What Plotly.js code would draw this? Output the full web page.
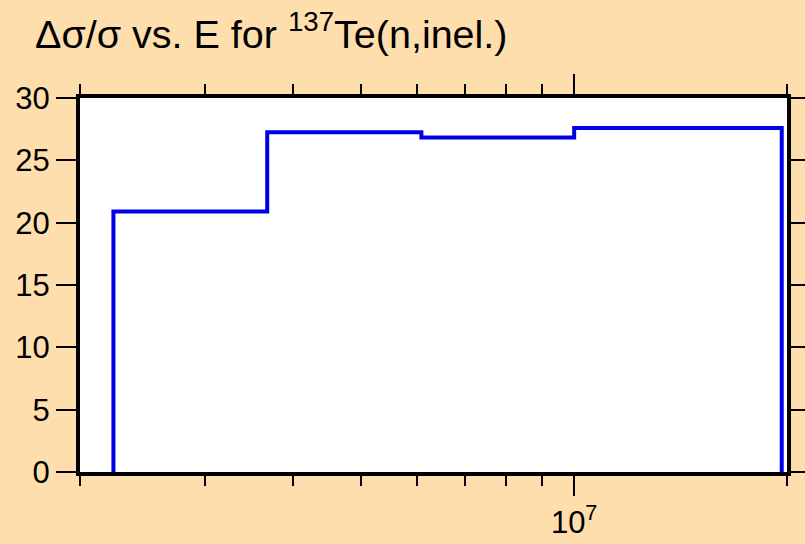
<!DOCTYPE html>
<html>
<head>
<meta charset="utf-8">
<script src="https://cdn.plot.ly/plotly-3.0.1.min.js"></script>
<style>html,body{margin:0;padding:0;background:#FFDEAD;}</style>
</head>
<body>
<div id="chart" style="width:805px;height:544px;"></div>
<script>
// Group boundaries (eV) and relative uncertainty (%) per group
var binEdges = [2.23e6, 3.68e6, 6.08e6, 1.0e7, 1.966e7];
var relUnc = [20.9, 27.25, 26.83, 27.6];
var majorTicks = [1e7];
var majorTickText = ['10<sup>7</sup>'];
var minorTicks = [2e6, 3e6, 4e6, 5e6, 6e6, 7e6, 8e6, 9e6, 2e7];
var yTicks = [0, 5, 10, 15, 20, 25, 30];

// Build step outline from the histogram arrays
var xs = [binEdges[0]], ys = [0];
for (var i = 0; i < relUnc.length; i++) {
  xs.push(binEdges[i]); ys.push(relUnc[i]);
  xs.push(binEdges[i + 1]); ys.push(relUnc[i]);
}
xs.push(binEdges[binEdges.length - 1]); ys.push(0);

var font = 'Arial, "Liberation Sans", sans-serif';

var trace = {
  x: xs, y: ys, type: 'scatter', mode: 'lines',
  line: {color: '#0000E6', width: 4, shape: 'linear'},
  hoverinfo: 'skip', cliponaxis: true
};

var layout = {
  width: 805, height: 544,
  paper_bgcolor: '#FFDEAD', plot_bgcolor: '#FFFFFF',
  margin: {l: 80, r: 18, t: 98, b: 72},
  showlegend: false,
  title: {
    text: '\u0394\u03c3/\u03c3 vs. E for <sup>137</sup>Te(n,inel.)',
    font: {family: font, size: 39.5, color: '#000'},
    x: 35 / 805, xanchor: 'left', xref: 'container',
    y: 1 - 34 / 544, yanchor: 'middle', yref: 'container'
  },
  xaxis: {
    type: 'log',
    range: [Math.log10(2e6), Math.log10(2e7)],
    tickmode: 'array', tickvals: majorTicks, ticktext: majorTickText,
    ticks: 'outside', ticklen: 20, tickwidth: 2, tickcolor: '#000',
    showline: true, linewidth: 4, linecolor: '#000', mirror: 'allticks',
    showgrid: false, zeroline: false,
    tickfont: {family: font, size: 31, color: '#000'},
    minor: {tickmode: 'array', tickvals: minorTicks, ticks: 'outside', ticklen: 10, tickwidth: 2, tickcolor: '#000', showgrid: false}
  },
  yaxis: {
    range: [0, 30],
    tickmode: 'array', tickvals: yTicks,
    ticks: 'outside', ticklen: 20, tickwidth: 2, tickcolor: '#000',
    showline: true, linewidth: 4, linecolor: '#000', mirror: 'allticks',
    showgrid: false, zeroline: false,
    tickfont: {family: font, size: 31, color: '#000'}
  }
};

Plotly.newPlot('chart', [trace], layout, {displayModeBar: false, staticPlot: true});
</script>
</body>
</html>
